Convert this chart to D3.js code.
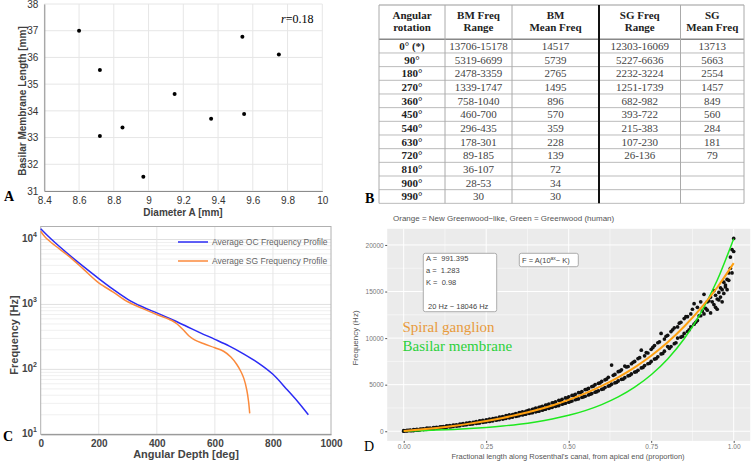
<!DOCTYPE html>
<html>
<head>
<meta charset="utf-8">
<script src="https://cdn.jsdelivr.net/npm/d3@7"></script>
<style>
  body { margin: 0; background: #fff; }
  svg text { font-family: "Liberation Sans", Arial, sans-serif; }
  svg .serif { font-family: "Liberation Serif", "Times New Roman", serif; }
</style>
</head>
<body>
<div id="fig"></div>
<script>
// ---- panel A : diameter vs BM length ----
var diamA = [8.6, 8.72, 8.72, 8.85, 8.97, 9.15, 9.36, 9.54, 9.55, 9.75];
var bmLength = [37.0, 35.53, 33.06, 33.38, 31.53, 34.63, 33.7, 36.77, 33.88, 36.11];

// ---- panel B : table ----
var tableHead = [["Angular", "rotation"], ["BM Freq", "Range"], ["BM", "Mean Freq"], ["SG Freq", "Range"], ["SG", "Mean Freq"]];
var rotation = ["0° (*)", "90°", "180°", "270°", "360°", "450°", "540°", "630°", "720°", "810°", "900°", "990°"];
var bmRange = ["13706-15178", "5319-6699", "2478-3359", "1339-1747", "758-1040", "460-700", "296-435", "178-301", "89-185", "36-107", "28-53", "30"];
var bmMean = ["14517", "5739", "2765", "1495", "896", "570", "359", "228", "139", "72", "34", "30"];
var sgRange = ["12303-16069", "5227-6636", "2232-3224", "1251-1739", "682-982", "393-722", "215-383", "107-230", "26-136", "", "", ""];
var sgMean = ["13713", "5663", "2554", "1457", "849", "560", "284", "181", "79", "", "", ""];

// ---- panel C : frequency profiles ----
var ocDeg  = [0, 25, 50, 100, 150, 200, 250, 300, 350, 400, 450, 500, 550, 600, 650, 700, 750, 800, 850, 885, 922];
var ocFreq = [14600, 11300, 8900, 5700, 3750, 2500, 1700, 1200, 920, 740, 590, 465, 365, 290, 228, 172, 125, 84, 48, 32, 20];
var sgDeg  = [0, 10, 20, 50, 100, 150, 200, 250, 300, 350, 400, 450, 470, 490, 510, 530, 560, 600, 630, 655, 675, 690, 700, 710, 716, 720];
var sgFreq = [13400, 11600, 10350, 8000, 5400, 3400, 2150, 1550, 1100, 870, 700, 570, 500, 410, 330, 285, 250, 215, 190, 155, 120, 92, 72, 48, 32, 21];

// ---- panel D : fractional length ----
var fitX = [0, 0.05, 0.1, 0.15, 0.2, 0.25, 0.3, 0.35, 0.4, 0.45, 0.5, 0.55, 0.6, 0.65, 0.7, 0.75, 0.8, 0.85, 0.9, 0.95, 1.0];
var sgFit = [20, 177, 361, 572, 819, 1104, 1434, 1816, 2262, 2773, 3370, 4063, 4866, 5793, 6867, 8114, 9557, 11243, 13186, 15437, 18053];
var bmFit = [20, 65, 123, 196, 289, 409, 560, 753, 999, 1312, 1710, 2218, 2865, 3687, 4735, 6070, 7770, 9935, 12693, 16206, 20678];
var cells = [
  [0,10],[0,60],[0.01,90],[0.01,30],[0.02,120],[0.02,60],[0.03,70],[0.03,170],[0.04,200],[0.04,110],
  [0.05,150],[0.05,240],[0.06,260],[0.06,180],[0.07,210],[0.07,330],[0.08,350],[0.08,250],[0.09,280],[0.09,400],
  [0.10,430],[0.10,330],[0.11,360],[0.11,470],[0.12,510],[0.12,400],[0.13,440],[0.13,580],[0.14,610],[0.14,470],
  [0.15,520],[0.15,660],[0.16,700],[0.16,560],[0.17,600],[0.17,760],[0.18,820],[0.18,660],[0.19,700],[0.19,880],
  [0.20,760],[0.20,930],[0.21,960],[0.21,800],[0.22,1050],[0.22,850],[0.23,900],[0.23,1110],[0.24,1160],[0.24,960],
  [0.25,1010],[0.25,1230],[0.26,1300],[0.26,1060],[0.27,1120],[0.27,1370],[0.28,1420],[0.28,1190],[0.29,1250],[0.29,1520],
  [0.30,1580],[0.30,1310],[0.31,1390],[0.31,1680],[0.32,1750],[0.32,1440],[0.33,1520],[0.33,1800],[0.34,1900],[0.34,1600],
  [0.35,1680],[0.35,2010],[0.36,2080],[0.36,1750],[0.37,1830],[0.37,2150],[0.38,2270],[0.38,1920],[0.39,2000],[0.39,2360],
  [0.40,2480],[0.40,2090],[0.41,2160],[0.41,2570],[0.42,2680],[0.42,2260],[0.43,2370],[0.43,2820],[0.44,2920],[0.44,2460],
  [0.45,2570],[0.45,3050],[0.46,3150],[0.46,2680],[0.47,2760],[0.47,3320],[0.48,3430],[0.48,2900],[0.49,3020],[0.49,3580],
  [0.50,3700],[0.50,3120],[0.51,3250],[0.51,3850],[0.52,3960],[0.52,3380],[0.53,3480],[0.53,4150],[0.54,4260],[0.54,3640],
  [0.55,3760],[0.55,4480],[0.56,4600],[0.56,3900],[0.57,4050],[0.57,4800],[0.58,5000],[0.58,4200],[0.59,4350],[0.59,5150],
  [0.60,5350],[0.60,4500],[0.61,4700],[0.61,5520],[0.62,5800],[0.62,4850],[0.63,7100],[0.63,5050],[0.64,6100],[0.64,5200],
  [0.65,5400],[0.65,6400],[0.66,6600],[0.66,5580],[0.67,5750],[0.67,7000],[0.68,6950],[0.68,5950],[0.69,6150],[0.69,7250],
  [0.70,7500],[0.70,6350],[0.71,6550],[0.71,7800],[0.72,8700],[0.72,6800],[0.73,7050],[0.73,8100],[0.74,8400],[0.74,7250],
  [0.75,7500],[0.75,8800],[0.76,9200],[0.76,7750],[0.77,8000],[0.77,9500],[0.78,10500],[0.78,8300],[0.79,8600],[0.79,9900],
  [0.80,9100],[0.80,10300],[0.81,10700],[0.81,9100],[0.82,9400],[0.82,11100],[0.83,10000],[0.83,11200],[0.84,11700],[0.84,10100],
  [0.85,10500],[0.85,12100],[0.86,12300],[0.86,10700],[0.87,11200],[0.87,12600],[0.88,13700],[0.88,11500],[0.89,11900],[0.89,13300],
  [0.90,12400],[0.90,13900],[0.91,14700],[0.91,12600],[0.92,13000],[0.92,13900],[0.93,14400],[0.93,12700],[0.94,13600],[0.94,15100],
  [0.95,14200],[0.95,13100],[0.96,15400],[0.96,14400],[0.97,14800],[0.97,16000],[0.98,16300],[0.98,15200],[0.99,17500],[0.99,18700],
  [1.00,19300],[1.00,20700],[0.995,19500],[0.985,17000],[0.975,15700],[0.965,13900],[0.955,14900],[0.945,13300],
  [0.005,45],[0.015,100],[0.025,70],[0.035,150],[0.045,130],[0.055,230],[0.065,205],[0.075,300],[0.085,270],[0.095,380],
  [0.105,350],[0.115,470],[0.125,430],[0.135,560],[0.145,500],[0.155,640],[0.165,600],[0.175,740],[0.185,700],[0.195,850],
  [0.205,790],[0.215,960],[0.225,900],[0.235,1090],[0.245,1010],[0.255,1210],[0.265,1130],[0.275,1350],[0.285,1250],[0.295,1490],
  [0.305,1380],[0.315,1650],[0.325,1530],[0.335,1820],[0.345,1660],[0.355,1990],[0.365,1830],[0.375,2180],[0.385,1990],[0.395,2380],
  [0.405,2170],[0.415,2600],[0.425,2350],[0.435,2800],[0.445,2550],[0.455,3050],[0.465,2760],[0.475,3300],[0.485,2980],[0.495,3560],
  [0.505,3200],[0.515,3850],[0.525,3450],[0.535,4150],[0.545,3700],[0.555,4500],[0.565,3980],[0.575,4850],[0.585,4250],[0.595,5200],
  [0.605,4550],[0.615,5600],[0.625,4900],[0.635,6000],[0.645,5250],[0.655,6450],[0.665,5600],[0.675,6900],[0.685,6000],[0.695,7400],
  [0.705,6400],[0.715,7900],[0.725,6850],[0.735,8450],[0.745,7300],[0.755,9000],[0.765,7800],[0.775,9600],[0.785,8350],[0.795,10200],
  [0.805,8900],[0.815,10900],[0.825,9500],[0.835,11600],[0.845,10200],[0.855,12300],[0.865,10900],[0.875,13100],[0.885,11700],[0.895,12400],
  [0.905,12900],[0.915,13200],[0.925,14000],[0.935,13900],[0.945,14600],[0.955,14100],[0.965,15200],[0.975,15500],[0.985,16200],[0.995,17000]
];

var svg = d3.select("#fig").append("svg")
  .attr("width", 755)
  .attr("height", 462);

// ================= Panel A =================
var xA = d3.scaleLinear().domain([8.4, 10]).range([44.3, 322.3]);
var yA = d3.scaleLinear().domain([31, 38]).range([191, 4]);
var gA = svg.append("g");

gA.append("g").selectAll("line").data(d3.range(8.4, 10.01, 0.2)).enter().append("line")
  .attr("x1", d => xA(d)).attr("x2", d => xA(d)).attr("y1", yA(31)).attr("y2", yA(38))
  .attr("stroke", "#e6e6e6");
gA.append("g").selectAll("line").data(d3.range(31, 38.1, 1)).enter().append("line")
  .attr("x1", xA(8.4)).attr("x2", xA(10)).attr("y1", d => yA(d)).attr("y2", d => yA(d))
  .attr("stroke", "#e6e6e6");

var axA = gA.append("g").attr("transform", `translate(0,${yA(31)})`)
  .call(d3.axisBottom(xA).tickValues(d3.range(8.4, 10.01, 0.2)).tickSize(0).tickPadding(6).tickFormat(d3.format("~g")));
var ayA = gA.append("g").attr("transform", `translate(${xA(8.4)},0)`)
  .call(d3.axisLeft(yA).ticks(7).tickSize(0).tickPadding(6));
[axA, ayA].forEach(function(a) {
  a.select(".domain").attr("stroke", "#8c8c8c");
  a.selectAll("text").attr("font-size", 10).attr("fill", "#333");
});

gA.selectAll("circle").data(diamA).enter().append("circle")
  .attr("cx", d => xA(d))
  .attr("cy", (d, i) => yA(bmLength[i]))
  .attr("r", 2)
  .attr("fill", "#000");

gA.append("text").attr("class", "serif").attr("x", 281).attr("y", 23).attr("font-size", 12)
  .html('<tspan font-style="italic">r</tspan>=0.18');
gA.append("text").attr("x", 183).attr("y", 216).attr("text-anchor", "middle")
  .attr("font-size", 10).attr("font-weight", "bold").attr("fill", "#404040").text("Diameter A [mm]");
gA.append("text").attr("transform", "translate(26,101) rotate(-90)").attr("text-anchor", "middle")
  .attr("font-size", 10).attr("font-weight", "bold").attr("fill", "#404040").text("Basilar Membrane Length [mm]");
gA.append("text").attr("class", "serif").attr("x", 4).attr("y", 201)
  .attr("font-size", 14).attr("font-weight", "bold").text("A");

// ================= Panel B =================
var colEdges = [379, 445, 512, 599, 680.5, 744];
var tTop = 5, headBottom = 39.3, rowH = 13.67;
var gB = svg.append("g");
var nRows = rotation.length;
var tBottom = headBottom + nRows * rowH;

gB.append("line").attr("x1", colEdges[0]).attr("x2", colEdges[5]).attr("y1", tTop).attr("y2", tTop).attr("stroke", "#999");
gB.append("line").attr("x1", colEdges[0]).attr("x2", colEdges[5]).attr("y1", headBottom).attr("y2", headBottom)
  .attr("stroke", "#888").attr("stroke-width", 1.6);
gB.selectAll(".rowline").data(d3.range(1, nRows + 1)).enter().append("line")
  .attr("x1", colEdges[0]).attr("x2", colEdges[5])
  .attr("y1", d => headBottom + d * rowH).attr("y2", d => headBottom + d * rowH)
  .attr("stroke", "#bbb");
gB.selectAll(".colline").data(colEdges).enter().append("line")
  .attr("x1", d => d).attr("x2", d => d).attr("y1", tTop).attr("y2", tBottom)
  .attr("stroke", (d, i) => i === 3 ? "#111" : "#aaa")
  .attr("stroke-width", (d, i) => i === 3 ? 2 : 1);

var colMid = d3.range(5).map(i => (colEdges[i] + colEdges[i + 1]) / 2);
tableHead.forEach(function(h, i) {
  h.forEach(function(s, j) {
    gB.append("text").attr("class", "serif").attr("x", colMid[i]).attr("y", 19 + j * 11.5)
      .attr("text-anchor", "middle").attr("font-size", 11).attr("font-weight", "bold").attr("fill", "#222").text(s);
  });
});
[rotation, bmRange, bmMean, sgRange, sgMean].forEach(function(col, c) {
  gB.append("g").selectAll("text").data(col).enter().append("text")
    .attr("class", "serif")
    .attr("x", colMid[c])
    .attr("y", (d, i) => headBottom + i * rowH + 10.8)
    .attr("text-anchor", "middle")
    .attr("font-size", 11)
    .attr("font-weight", c === 0 ? "bold" : "normal")
    .attr("fill", c === 0 ? "#222" : "#444")
    .text(d => d);
});
gB.append("text").attr("class", "serif").attr("x", 365).attr("y", 203)
  .attr("font-size", 14).attr("font-weight", "bold").text("B");

// ================= Panel C =================
var xC = d3.scaleLinear().domain([0, 1000]).range([40.7, 331]);
var yC = d3.scaleLog().domain([10, Math.pow(10, 4.2)]).range([434.3, 226.5]);
var gC = svg.append("g");

var minorC = [];
[10, 100, 1000, 10000].forEach(function(dec) {
  for (var k = 2; k <= 9; k++) { if (dec * k < Math.pow(10, 4.2)) minorC.push(dec * k); }
});
gC.append("g").selectAll("line").data(minorC).enter().append("line")
  .attr("x1", xC(0)).attr("x2", xC(1000)).attr("y1", d => yC(d)).attr("y2", d => yC(d))
  .attr("stroke", "#f0f0f0");
gC.append("g").selectAll("line").data([100, 1000, 10000]).enter().append("line")
  .attr("x1", xC(0)).attr("x2", xC(1000)).attr("y1", d => yC(d)).attr("y2", d => yC(d))
  .attr("stroke", "#e0e0e0");
gC.append("g").selectAll("line").data([200, 400, 600, 800]).enter().append("line")
  .attr("x1", d => xC(d)).attr("x2", d => xC(d)).attr("y1", yC(10)).attr("y2", 226.5)
  .attr("stroke", "#e6e6e6");
gC.append("rect").attr("x", xC(0)).attr("y", 226.5).attr("width", xC(1000) - xC(0)).attr("height", yC(10) - 226.5)
  .attr("fill", "none").attr("stroke", "#b0b0b0");

var axC = gC.append("g").attr("transform", `translate(0,${yC(10)})`)
  .call(d3.axisBottom(xC).ticks(5).tickSize(0).tickPadding(6).tickFormat(d3.format("d")));
axC.select(".domain").attr("stroke", "#8c8c8c");
axC.selectAll("text").attr("font-size", 10).attr("font-weight", "bold").attr("fill", "#444");

gC.append("g").selectAll("text").data([10, 100, 1000, 10000]).enter().append("text")
  .attr("x", 37).attr("y", d => yC(d) + 3).attr("text-anchor", "end")
  .attr("font-size", 10).attr("font-weight", "bold").attr("fill", "#444")
  .html(d => '10<tspan dy="-5" font-size="7">' + Math.round(Math.log10(d)) + '</tspan>');

var lineC = d3.line().x(d => xC(d[0])).y(d => yC(d[1])).curve(d3.curveCatmullRom);
gC.append("path").datum(ocDeg.map((d, i) => [d, ocFreq[i]]))
  .attr("d", lineC).attr("fill", "none").attr("stroke", "#2b2bf5").attr("stroke-width", 1.5);
gC.append("path").datum(sgDeg.map((d, i) => [d, sgFreq[i]]))
  .attr("d", lineC).attr("fill", "none").attr("stroke", "#fb8a3c").attr("stroke-width", 1.5);

var legC = [["Average OC Frequency Profile", "#2b2bf5"], ["Average SG Frequency Profile", "#fb8a3c"]];
legC.forEach(function(l, i) {
  gC.append("line").attr("x1", 178).attr("x2", 208).attr("y1", 242 + i * 19).attr("y2", 242 + i * 19)
    .attr("stroke", l[1]).attr("stroke-width", 1.5);
  gC.append("text").attr("x", 212).attr("y", 245 + i * 19).attr("font-size", 8.5).attr("fill", "#666").text(l[0]);
});

gC.append("text").attr("x", 186).attr("y", 458).attr("text-anchor", "middle")
  .attr("font-size", 11).attr("font-weight", "bold").attr("fill", "#444").text("Angular Depth [deg]");
gC.append("text").attr("transform", "translate(18,335) rotate(-90)").attr("text-anchor", "middle")
  .attr("font-size", 11).attr("font-weight", "bold").attr("fill", "#444").text("Frequency [Hz]");
gC.append("text").attr("class", "serif").attr("x", 3).attr("y", 441)
  .attr("font-size", 14).attr("font-weight", "bold").text("C");

// ================= Panel D =================
var xD = d3.scaleLinear().domain([-0.05, 1.05]).range([387.2, 750.2]);
var yD = d3.scaleLinear().domain([-1035, 21735]).range([440.9, 228.8]);
var gD = svg.append("g");

gD.append("rect").attr("x", xD(-0.05)).attr("y", yD(21735)).attr("width", xD(1.05) - xD(-0.05))
  .attr("height", yD(-1035) - yD(21735)).attr("fill", "#ebebeb");
gD.append("g").selectAll("line").data([0.125, 0.375, 0.625, 0.875]).enter().append("line")
  .attr("x1", d => xD(d)).attr("x2", d => xD(d)).attr("y1", yD(-1035)).attr("y2", yD(21735))
  .attr("stroke", "#fff").attr("stroke-width", 0.5);
gD.append("g").selectAll("line").data([2500, 7500, 12500, 17500]).enter().append("line")
  .attr("x1", xD(-0.05)).attr("x2", xD(1.05)).attr("y1", d => yD(d)).attr("y2", d => yD(d))
  .attr("stroke", "#fff").attr("stroke-width", 0.5);
gD.append("g").selectAll("line").data([0, 0.25, 0.5, 0.75, 1]).enter().append("line")
  .attr("x1", d => xD(d)).attr("x2", d => xD(d)).attr("y1", yD(-1035)).attr("y2", yD(21735))
  .attr("stroke", "#fff").attr("stroke-width", 1);
gD.append("g").selectAll("line").data([0, 5000, 10000, 15000, 20000]).enter().append("line")
  .attr("x1", xD(-0.05)).attr("x2", xD(1.05)).attr("y1", d => yD(d)).attr("y2", d => yD(d))
  .attr("stroke", "#fff").attr("stroke-width", 1);

var axD = gD.append("g").attr("transform", `translate(0,${yD(-1035)})`)
  .call(d3.axisBottom(xD).tickValues([0, 0.25, 0.5, 0.75, 1]).tickSize(2).tickPadding(1.5).tickFormat(d3.format(".2f")));
var ayD = gD.append("g").attr("transform", `translate(${xD(-0.05)},0)`)
  .call(d3.axisLeft(yD).tickValues([0, 5000, 10000, 15000, 20000]).tickSize(2).tickPadding(1.5).tickFormat(d3.format("d")));
[axD, ayD].forEach(function(a) {
  a.select(".domain").remove();
  a.selectAll("line").attr("stroke", "#555");
  a.selectAll("text").attr("font-size", 6.5).attr("fill", "#777");
});

gD.append("g").selectAll("circle").data(cells).enter().append("circle")
  .attr("cx", d => xD(d[0])).attr("cy", d => yD(d[1])).attr("r", 1.85).attr("fill", "#111");

var lineD = d3.line().x(d => xD(d[0])).y(d => yD(d[1])).curve(d3.curveMonotoneX);
gD.append("path").datum(fitX.map((d, i) => [d, bmFit[i]]))
  .attr("d", lineD).attr("fill", "none").attr("stroke", "#1ee81e").attr("stroke-width", 1.5);
gD.append("path").datum(fitX.map((d, i) => [d, sgFit[i]]))
  .attr("d", lineD).attr("fill", "none").attr("stroke", "#ffa010").attr("stroke-width", 2);

// parameter boxes
gD.append("rect").attr("x", 423.3).attr("y", 253.3).attr("width", 73.4).attr("height", 58.4)
  .attr("rx", 2).attr("fill", "#fff").attr("stroke", "#999").attr("stroke-width", 0.8);
var boxLines = [["A =  991.395", 261], ["a =  1.283", 273], ["K =  0.98", 285], [" 20 Hz \u2212 18046 Hz", 309]];
boxLines.forEach(function(b) {
  gD.append("text").attr("x", 426).attr("y", b[1]).attr("font-size", 7.5).attr("fill", "#444")
    .attr("xml:space", "preserve").text(b[0]);
});
gD.append("rect").attr("x", 519.3).attr("y", 253.3).attr("width", 59).attr("height", 13.4)
  .attr("rx", 2).attr("fill", "#fff").attr("stroke", "#999").attr("stroke-width", 0.8);
gD.append("text").attr("x", 522).attr("y", 263).attr("font-size", 7.5).attr("fill", "#444")
  .html('F = A(10<tspan dy="-3" font-size="5">ax</tspan><tspan dy="3">\u2212 K)</tspan>');

gD.append("text").attr("class", "serif").attr("x", 402.5).attr("y", 331.5).attr("font-size", 15)
  .attr("fill", "#e89a3c").text("Spiral ganglion");
gD.append("text").attr("class", "serif").attr("x", 402.5).attr("y", 350.5).attr("font-size", 15)
  .attr("fill", "#2bd13b").text("Basilar membrane");

gD.append("text").attr("x", 393).attr("y", 221).attr("font-size", 8).attr("fill", "#555")
  .text("Orange = New Greenwood\u2212like, Green = Greenwood (human)");
gD.append("text").attr("x", 568).attr("y", 459).attr("text-anchor", "middle").attr("font-size", 7.5).attr("fill", "#555")
  .text("Fractional length along Rosenthal's canal, from apical end (proportion)");
gD.append("text").attr("transform", "translate(358,338) rotate(-90)").attr("text-anchor", "middle")
  .attr("font-size", 8).attr("fill", "#555").text("Frequency (Hz)");
gD.append("text").attr("class", "serif").attr("x", 364).attr("y", 451)
  .attr("font-size", 14).text("D");
</script>
</body>
</html>
